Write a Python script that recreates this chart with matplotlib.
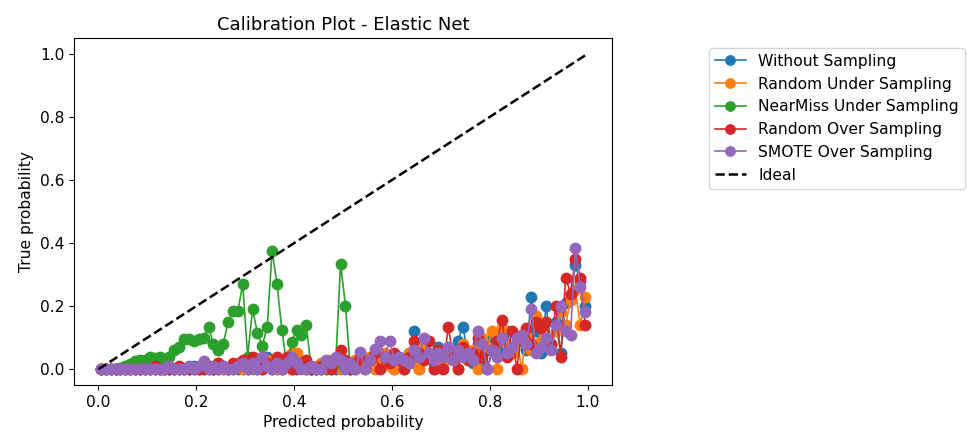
import matplotlib
matplotlib.use('Agg')
import matplotlib.pyplot as plt

# bin centres (predicted probability) shared by the four full-range curves
bins = [0.005, 0.015, 0.025, 0.035, 0.045, 0.055, 0.065, 0.075, 0.085, 0.095,
        0.105, 0.115, 0.125, 0.135, 0.145, 0.155, 0.165, 0.175, 0.185, 0.195,
        0.205, 0.215, 0.225, 0.235, 0.245, 0.255, 0.265, 0.275, 0.285, 0.295,
        0.305, 0.315, 0.325, 0.335, 0.345, 0.355, 0.365, 0.375, 0.385, 0.395,
        0.405, 0.415, 0.425, 0.435, 0.445, 0.455, 0.465, 0.475, 0.485, 0.495,
        0.505, 0.515, 0.525, 0.535, 0.545, 0.555, 0.565, 0.575, 0.585, 0.595,
        0.605, 0.615, 0.625, 0.635, 0.645, 0.655, 0.665, 0.675, 0.685, 0.695,
        0.705, 0.715, 0.725, 0.735, 0.745, 0.755, 0.765, 0.775, 0.785, 0.795,
        0.805, 0.815, 0.825, 0.835, 0.845, 0.855, 0.865, 0.875, 0.885, 0.895,
        0.905, 0.915, 0.925, 0.935, 0.945, 0.955, 0.965, 0.975, 0.985, 0.995]

without = [0, 0, 0, 0, 0, 0, 0, 0, 0, 0,
           0, 0, 0, 0, 0, 0, 0, 0, 0, 0.01,
           0, 0.01, 0, 0, 0, 0, 0, 0.01, 0, 0,
           0, 0.01, 0, 0.02, 0.04, 0, 0, 0.01, 0.03, 0,
           0.02, 0.01, 0, 0, 0, 0, 0.01, 0.02, 0, 0.03,
           0.01, 0.02, 0, 0.03, 0.02, 0.04, 0.01, 0.05, 0.03, 0.02,
           0.0, 0.04, 0.03, 0.05, 0.12, 0.0, 0.06, 0.04, 0.02, 0.07,
           0.03, 0.06, 0.04, 0.09, 0.135, 0.05, 0.02, 0.08, 0.03, 0.06,
           0.10, 0.04, 0.07, 0.12, 0.05, 0.09, 0.11, 0.06, 0.23, 0.12,
           0.05, 0.20, 0.08, 0.15, 0.05, 0.21, 0.24, 0.33, 0.28, 0.20]

rand_under = [0, 0, 0, 0, 0, 0, 0, 0, 0, 0,
              0, 0, 0, 0, 0, 0, 0, 0, 0, 0,
              0, 0, 0.01, 0, 0.02, 0, 0, 0, 0.02, 0,
              0, 0, 0.01, 0, 0.03, 0.02, 0, 0, 0.01, 0.05,
              0.05, 0.02, 0, 0, 0.01, 0.02, 0, 0.03, 0.01, 0.0,
              0.02, 0.0, 0.03, 0.01, 0.02, 0.04, 0.0, 0.03, 0.05, 0.01,
              0.0, 0.03, 0.0, 0.05, 0.02, 0.0, 0.07, 0.04, 0.0, 0.06,
              0.02, 0.05, 0.03, 0.0, 0.08, 0.04, 0.06, 0.0, 0.10, 0.07,
              0.12, 0.0, 0.13, 0.08, 0.05, 0.10, 0.0, 0.11, 0.06, 0.17,
              0.09, 0.15, 0.07, 0.12, 0.18, 0.14, 0.22, 0.25, 0.14, 0.23]

# NearMiss only covers the lower half of the predicted range
nm_x = [0.005, 0.015, 0.025, 0.035, 0.045, 0.055, 0.065, 0.075, 0.085, 0.095,
        0.105, 0.115, 0.125, 0.135, 0.145, 0.155, 0.165, 0.175, 0.185, 0.195,
        0.205, 0.215, 0.225, 0.235, 0.245, 0.255, 0.265, 0.275, 0.285, 0.295,
        0.305, 0.315, 0.325, 0.335, 0.345, 0.355, 0.365, 0.375, 0.385, 0.395,
        0.405, 0.415, 0.425, 0.435, 0.445, 0.455, 0.465, 0.475, 0.485, 0.495,
        0.505, 0.515]
nearmiss = [0, 0, 0, 0, 0.005, 0.01, 0.015, 0.025, 0.03, 0.03,
            0.04, 0.035, 0.04, 0.03, 0.04, 0.06, 0.07, 0.095, 0.095, 0.09,
            0.095, 0.10, 0.135, 0.08, 0.06, 0.08, 0.15, 0.185, 0.185, 0.27,
            0.04, 0.19, 0.115, 0.075, 0.135, 0.375, 0.27, 0.125, 0.01, 0.085,
            0.125, 0.11, 0.14, 0.0, 0.0, 0.0, 0.0, 0.0, 0.02, 0.335,
            0.20, 0.0]

rand_over = [0, 0, 0, 0, 0, 0, 0, 0, 0, 0,
             0, 0.01, 0, 0, 0, 0, 0.01, 0, 0, 0,
             0, 0, 0.01, 0, 0.02, 0.01, 0, 0.02, 0.01, 0.03,
             0.02, 0.04, 0.03, 0.0, 0.02, 0.01, 0.04, 0.0, 0.04, 0.0,
             0.0, 0.02, 0.03, 0.0, 0.0, 0.01, 0.02, 0.0, 0.03, 0.06,
             0.03, 0.0, 0.02, 0.04, 0.0, 0.03, 0.05, 0.0, 0.04, 0.02,
             0.05, 0.03, 0.0, 0.04, 0.09, 0.05, 0.03, 0.09, 0.0, 0.06,
             0.0, 0.135, 0.04, 0.0, 0.07, 0.03, 0.05, 0.10, 0.04, 0.0,
             0.06, 0.09, 0.155, 0.04, 0.12, 0.0, 0.11, 0.13, 0.08, 0.15,
             0.13, 0.15, 0.08, 0.20, 0.04, 0.29, 0.24, 0.35, 0.29, 0.14]

smote = [0, 0, 0, 0, 0, 0, 0, 0, 0, 0,
         0, 0, 0, 0, 0.01, 0, 0, 0, 0.01, 0.0,
         0.01, 0.025, 0, 0.01, 0, 0.01, 0, 0, 0.01, 0.02,
         0.0, 0.02, 0.0, 0.04, 0.01, 0.0, 0.02, 0.0, 0.02, 0.04,
         0.02, 0.0, 0.0, 0.01, 0.0, 0.0, 0.03, 0.02, 0.04, 0.03,
         0.0, 0.02, 0.0, 0.055, 0.0, 0.03, 0.065, 0.09, 0.04, 0.09,
         0.03, 0.04, 0.03, 0.02, 0.06, 0.04, 0.10, 0.05, 0.03, 0.05,
         0.04, 0.07, 0.03, 0.06, 0.04, 0.05, 0.03, 0.12, 0.08, 0.0,
         0.06, 0.04, 0.10, 0.05, 0.07, 0.10, 0.11, 0.08, 0.19, 0.05,
         0.07, 0.10, 0.06, 0.14, 0.20, 0.12, 0.11, 0.385, 0.26, 0.18]

plt.rcParams['font.size'] = 11.2

fig = plt.figure(figsize=(9.67, 4.37), dpi=100)
ax = fig.add_axes([0.0765, 0.119, 0.5565, 0.794])

ms = 7.5
lw = 1.2
ax.plot(bins, without, marker='o', ms=ms, lw=lw, label='Without Sampling')
ax.plot(bins, rand_under, marker='o', ms=ms, lw=lw, label='Random Under Sampling')
ax.plot(nm_x, nearmiss, marker='o', ms=ms, lw=lw, label='NearMiss Under Sampling')
ax.plot(bins, rand_over, marker='o', ms=ms, lw=lw, label='Random Over Sampling')
ax.plot(bins, smote, marker='o', ms=ms, lw=lw, label='SMOTE Over Sampling')
ax.plot([0, 1], [0, 1], 'k--', lw=1.8, label='Ideal')

ax.set_xticks([0.0, 0.2, 0.4, 0.6, 0.8, 1.0])
ax.set_yticks([0.0, 0.2, 0.4, 0.6, 0.8, 1.0])
ax.set_xlabel('Predicted probability')
ax.set_ylabel('True probability')
ax.set_title('Calibration Plot - Elastic Net', fontsize=13)
ax.legend(loc='upper left', bbox_to_anchor=(1.165, 0.995), markerscale=0.9)

fig.savefig('out.png', dpi=100)
